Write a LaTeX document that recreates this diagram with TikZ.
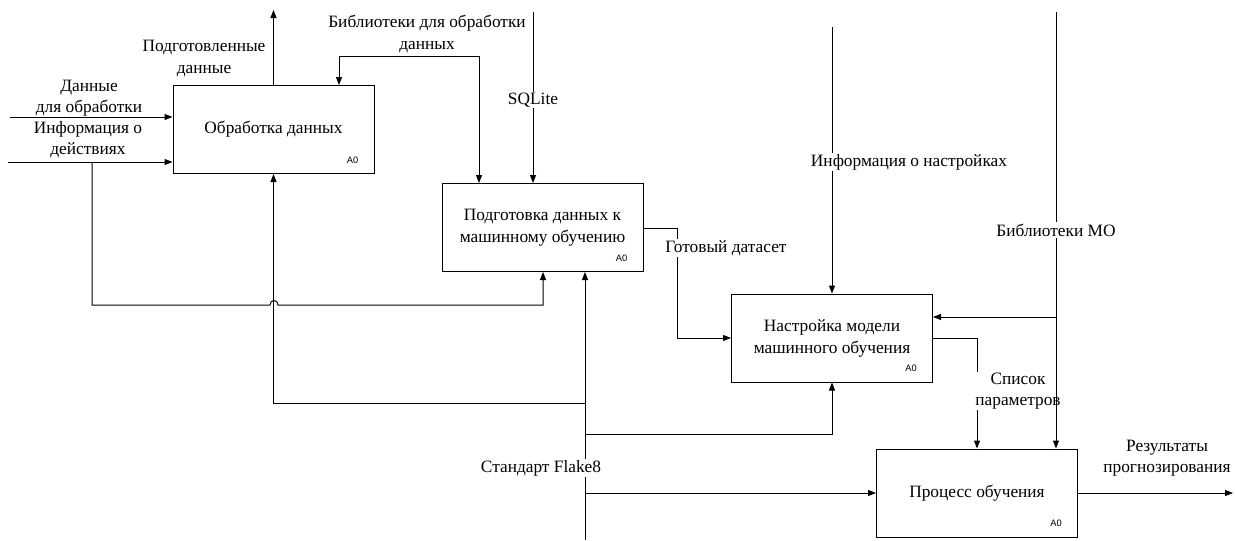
\documentclass[tikz,border=0pt]{standalone}
\usepackage{fontspec}
\setmainfont{LiberationSerif-Regular.ttf}
\newfontfamily\labelfont{LiberationSerif-Regular.ttf}
\newfontfamily\codefont{Liberation Sans}
\usetikzlibrary{arrows.meta,calc}
\begin{document}
\begin{tikzpicture}[x=0.75pt,y=-0.75pt,
  >={Triangle[length=6pt,width=4.5pt]},
  func/.style={draw, line width=0.75pt, minimum width=150.75pt, minimum height=66pt,
    inner sep=0pt, align=center, font=\labelfont\fontsize{13}{16.5}\selectfont},
  lbl/.style={align=center, inner sep=1pt, font=\labelfont\fontsize{13}{15.8}\selectfont},
  lblw/.style={lbl, fill=white},
  num/.style={font=\codefont\fontsize{7}{8}\selectfont, inner sep=0pt},
  wire/.style={line width=0.75pt},
  conn/.style={wire, ->}]
\useasboundingbox (0,0) rectangle (1235,540);

% function blocks
\node[func] (b1) at (273.5,129.5) {Обработка данных};
\node[func] (b2) at (542.5,227.5) {Подготовка данных к\\машинному обучению};
\node[func] (b3) at (832,338) {Настройка модели\\машинного обучения};
\node[func] (b4) at (977,493) {Процесс обучения};
\foreach \b/\n in {b1/n1,b2/n2,b3/n3,b4/n4}
  \node[num] (\n) at ($(\b.south east)+(-22,-14)$) {A0};

% inputs of the first block
\coordinate (in1) at (10,117);
\coordinate (in2) at (8,162);
\draw[conn] (in1) -- (in1 -| b1.west);
\draw[conn] (in2) -- (in2 -| b1.west);
\node[lbl] (lin1) at (89,98) {Данные\\для обработки};
\node[lbl] (lin2) at (88,140) {Информация о\\действиях};

% branch of the second input, jumping over the Flake8 line
\coordinate (k1) at (92,162);
\coordinate (k2) at (92,305);
\coordinate (ja) at (270,305);
\coordinate (jb) at (278,305);
\coordinate (k3) at (543,305);
\draw[conn] (k1) -- (k2) -- (ja) .. controls (270,299) and (278,299) .. (jb)
  -- (k3) -- (k3 |- b2.south);

% output of the first block
\coordinate (o1) at (273.5,10);
\draw[conn] (b1.north) -- (o1);
\node[lbl] (lo1) at (204,58.5) {Подготовленные\\данные};

% processing libraries
\coordinate (c1) at (339,56);
\coordinate (c2) at (479,56);
\draw[wire,<->] (c1 |- b1.north) -- (c1) -- (c2) -- (c2 |- b2.north);
\node[lbl] (lc) at (427,34) {Библиотеки для обработки\\данных};

% SQLite
\coordinate (s0) at (533,12);
\draw[conn] (s0) -- (s0 |- b2.north);
\node[lblw] (ls) at (533,100) {SQLite};

% dataset
\coordinate (g1) at (677,228);
\coordinate (g2) at (677,338);
\draw[conn] (b2.east |- g1) -- (g1) -- (g2) -- (g2 -| b3.west);
\node[lblw] (lg) at (726,248) {Готовый датасет};

% tuning information
\coordinate (t0) at (832,27);
\draw[conn] (t0) -- (b3.north);
\node[lblw] (lt) at (909,162) {Информация о настройках};

% parameter list
\coordinate (p1) at (977,338);
\draw[conn] (b3.east |- p1) -- (p1) -- (b4.north);
\node[lblw] (lp) at (1018,391) {Список\\параметров};

% ML libraries
\coordinate (m0) at (1056,12);
\coordinate (m1) at (1056,317);
\node[lblw] (lm) at (1056,230) {Библиотеки МО};
\draw[wire] (m0) -- (lm.north);
\draw[conn] (lm.south) -- (lm.south |- b4.north);
\draw[conn] (m1) -- (m1 -| b3.east);

% results
\coordinate (r1) at (1233,493);
\draw[conn] (b4.east) -- (r1);
\node[lbl] (lr) at (1167,458.5) {Результаты\\прогнозирования};

% Flake8 standard
\coordinate (f0) at (585,540);
\coordinate (f1) at (585,403);
\coordinate (f2) at (585,434);
\coordinate (f3) at (585,493);
\draw[conn] (f0) -- (f0 |- b2.south);
\draw[conn] (f1) -- (f1 -| b1.south) -- (b1.south);
\draw[conn] (f2) -- (f2 -| b3.south) -- (b3.south);
\draw[conn] (f3) -- (b4.west);
\node[lblw] (lf) at (541,468) {Стандарт Flake8};
\end{tikzpicture}
\end{document}
